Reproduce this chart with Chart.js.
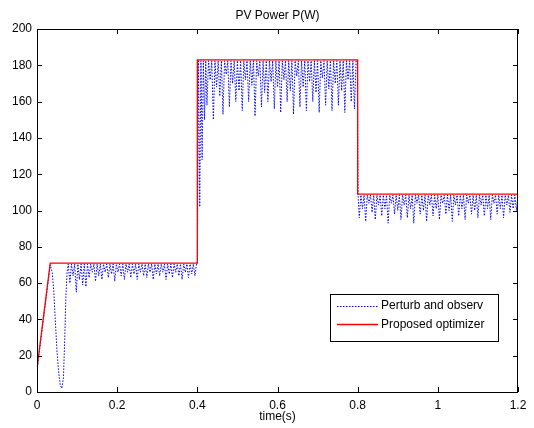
<!DOCTYPE html>
<html>
<head>
<meta charset="utf-8">
<script src="https://cdn.jsdelivr.net/npm/chart.js@4.4.1/dist/chart.umd.min.js"></script>
<style>
  html, body { margin: 0; padding: 0; background: #fff; }
  #wrap { width: 534px; height: 428px; position: relative; }
</style>
</head>
<body>
<div id="wrap"><canvas id="pvChart"></canvas></div>
<script>
// ---- data ----
const xTicks = [0, 0.2, 0.4, 0.6, 0.8, 1, 1.2];
const yTicks = [0, 20, 40, 60, 80, 100, 120, 140, 160, 180, 200];

// Proposed optimizer (red)
const optTime  = [0, 0.033, 0.4, 0.4, 0.8, 0.8, 1.2];
const optPower = [13, 71, 71, 183, 183, 109, 109];

// Perturb and observ (blue dotted)
const peoTime = [
  0, 0.004, 0.033, 0.038, 0.042, 0.046, 0.050, 0.054, 0.058, 0.062, 0.066, 0.069, 0.072, 0.075, 0.078,
  0.082,0.086,0.090,0.094,0.098,0.102,0.106,0.110,0.114,0.118,
  0.122,0.126,0.130,0.134,0.138,0.142,0.146,0.150,0.154,0.158,
  0.162,0.166,0.170,0.174,0.178,0.182,0.186,0.190,0.194,0.198,
  0.202,0.206,0.210,0.214,0.218,0.222,0.226,0.230,0.234,0.238,
  0.242,0.246,0.250,0.254,0.258,0.262,0.266,0.270,0.274,0.278,
  0.282,0.286,0.290,0.294,0.298,0.302,0.306,0.310,0.314,0.318,
  0.322,0.326,0.330,0.334,0.338,0.342,0.346,0.350,0.354,0.358,
  0.362,0.366,0.370,0.374,0.378,0.382,0.386,0.390,0.394,0.398,
  0.400,0.403,0.406,0.409,0.412,0.415,0.418,0.421,
  0.424,0.428,0.432,0.436,0.440,0.444,0.448,0.452,0.456,0.460,
  0.464,0.468,0.472,0.476,0.480,0.484,0.488,0.492,0.496,0.500,
  0.504,0.508,0.512,0.516,0.520,0.524,0.528,0.532,0.536,0.540,
  0.544,0.548,0.552,0.556,0.560,0.564,0.568,0.572,0.576,0.580,
  0.584,0.588,0.592,0.596,0.600,0.604,0.608,0.612,0.616,0.620,
  0.624,0.628,0.632,0.636,0.640,0.644,0.648,0.652,0.656,0.660,
  0.664,0.668,0.672,0.676,0.680,0.684,0.688,0.692,0.696,0.700,
  0.704,0.708,0.712,0.716,0.720,0.724,0.728,0.732,0.736,0.740,
  0.744,0.748,0.752,0.756,0.760,0.764,0.768,0.772,0.776,0.780,
  0.784,0.788,0.792,0.796,
  0.799,0.801,
  0.804,0.808,0.812,0.816,0.820,0.824,0.828,0.832,0.836,0.840,
  0.844,0.848,0.852,0.856,0.860,0.864,0.868,0.872,0.876,0.880,
  0.884,0.888,0.892,0.896,0.900,0.904,0.908,0.912,0.916,0.920,
  0.924,0.928,0.932,0.936,0.940,0.944,0.948,0.952,0.956,0.960,
  0.964,0.968,0.972,0.976,0.980,0.984,0.988,0.992,0.996,1.000,
  1.004,1.008,1.012,1.016,1.020,1.024,1.028,1.032,1.036,1.040,
  1.044,1.048,1.052,1.056,1.060,1.064,1.068,1.072,1.076,1.080,
  1.084,1.088,1.092,1.096,1.100,1.104,1.108,1.112,1.116,1.120,
  1.124,1.128,1.132,1.136,1.140,1.144,1.148,1.152,1.156,1.160,
  1.164,1.168,1.172,1.176,1.180,1.184,1.188,1.192,1.196,1.200
];
const peoPower = [
  12, 19, 70, 66, 55, 38, 22, 11, 4, 2, 8, 28, 52, 66, 70.5,
  60,70.5,64,70.5,55,70.5,62,70.5,59,70.5,
  58,70.5,63,70.5,66,70.5,61,70.5,64,70.5,
  62,70.5,66,70.5,63,70.5,65,70.5,61,70.5,
  66,70.5,64,70.5,62,70.5,66,70.5,63,70.5,
  65,70.5,62,70.5,66,70.5,64,70.5,63,70.5,
  66,70.5,62,70.5,65,70.5,64,70.5,66,70.5,
  62,70.5,65,70.5,63,70.5,66,70.5,64,70.5,
  62,70.5,66,70.5,63,70.5,65,70.5,64,70.5,
  71,183,102,182.5,128,182.5,150,182.5,
  158,182.5,172,182.5,150,182.5,168,182.5,163,182.5,
  153,182.5,175,182.5,157,182.5,170,182.5,160,182.5,
  166,182.5,155,182.5,172,182.5,160,182.5,169,182.5,
  152,182.5,174,182.5,157,182.5,165,182.5,160,182.5,
  171,182.5,156,182.5,168,182.5,154,182.5,172,182.5,
  160,182.5,166,182.5,153,182.5,174,182.5,157,182.5,
  168,182.5,155,182.5,171,182.5,160,182.5,165,182.5,
  154,182.5,173,182.5,158,182.5,167,182.5,155,182.5,
  170,182.5,158,182.5,166,182.5,154,182.5,172,182.5,
  160,182.5,156,182.5,
  182.5,108.5,
  96,108.5,101,108.5,94,108.5,104,108.5,99,108.5,
  95,108.5,103,108.5,97,108.5,101,108.5,93,108.5,
  104,108.5,98,108.5,100,108.5,95,108.5,103,108.5,
  96,108.5,101,108.5,93,108.5,104,108.5,98,108.5,
  100,108.5,94,108.5,103,108.5,97,108.5,101,108.5,
  95,108.5,104,108.5,98,108.5,100,108.5,94,108.5,
  103,108.5,97,108.5,101,108.5,95,108.5,104,108.5,
  98,108.5,100,108.5,96,108.5,103,108.5,97,108.5,
  101,108.5,95,108.5,104,108.5,98,108.5,101,108.5,
  96,108.5,103,108.5,99,108.5,101,108.5,100,108.5
];

const seriesNames = ['Perturb and observ', 'Proposed optimizer'];

document.addEventListener('DOMContentLoaded', function () {
    const FONT = '"Liberation Sans", Arial, sans-serif';

    // MATLAB-like frame: box, inward ticks, title, x label, legend
    const matlabFrame = {
        id: 'matlabFrame',
        afterDraw(chart) {
            const ctx = chart.ctx;
            const a = chart.chartArea;
            const xs = chart.scales.x, ys = chart.scales.y;
            ctx.save();
            ctx.strokeStyle = '#000';
            ctx.lineWidth = 1;
            ctx.strokeRect(a.left + 0.5, a.top + 0.5, a.right - a.left - 1, a.bottom - a.top);
            ctx.beginPath();
            xTicks.forEach(v => {
                const px = Math.round(xs.getPixelForValue(v)) + 0.5;
                ctx.moveTo(px, a.bottom); ctx.lineTo(px, a.bottom - 5);
                ctx.moveTo(px, a.top); ctx.lineTo(px, a.top + 5);
            });
            yTicks.forEach(v => {
                const py = Math.round(ys.getPixelForValue(v)) + 0.5;
                ctx.moveTo(a.left, py); ctx.lineTo(a.left + 5, py);
                ctx.moveTo(a.right, py); ctx.lineTo(a.right - 5, py);
            });
            ctx.stroke();

            ctx.fillStyle = '#000';
            ctx.font = '12px ' + FONT;
            ctx.textAlign = 'center';
            ctx.textBaseline = 'middle';
            ctx.fillText('PV Power P(W)', (a.left + a.right) / 2, 16);
            ctx.fillText('time(s)', (a.left + a.right) / 2, 417);

            // legend
            const lx = 330, ly = 294, lw = 168, lh = 47;
            ctx.fillStyle = '#fff';
            ctx.fillRect(lx, ly, lw, lh);
            ctx.strokeRect(lx + 0.5, ly + 0.5, lw, lh);
            ctx.lineWidth = 1;
            ctx.strokeStyle = '#0000ff';
            ctx.setLineDash([1.5, 1.5]);
            ctx.beginPath(); ctx.moveTo(337, 306.5); ctx.lineTo(378, 306.5); ctx.stroke();
            ctx.setLineDash([]);
            ctx.strokeStyle = '#ff0000';
            ctx.lineWidth = 1.3;
            ctx.beginPath(); ctx.moveTo(337, 324.5); ctx.lineTo(378, 324.5); ctx.stroke();
            ctx.fillStyle = '#000';
            ctx.textAlign = 'left';
            ctx.fillText(seriesNames[0], 381, 306);
            ctx.fillText(seriesNames[1], 381, 325);
            ctx.restore();
        }
    };

    new Chart(document.getElementById('pvChart'), {
        type: 'scatter',
        data: {
            datasets: [
                {
                    label: seriesNames[0],
                    data: peoTime.map((t, i) => ({ x: t, y: peoPower[i] })),
                    showLine: true,
                    borderColor: '#0000ff',
                    borderWidth: 1,
                    borderDash: [1.5, 1.5],
                    pointRadius: 0,
                    order: 1,
                },
                {
                    label: seriesNames[1],
                    data: optTime.map((t, i) => ({ x: t, y: optPower[i] })),
                    showLine: true,
                    borderColor: '#ff0000',
                    borderWidth: 1.3,
                    pointRadius: 0,
                    order: 0,
                }
            ]
        },
        options: {
            responsive: true,
            maintainAspectRatio: false,
            animation: false,
            layout: { padding: { top: 29, right: 16, left: 0, bottom: 0 } },
            plugins: {
                legend: { display: false },
                tooltip: { enabled: false },
            },
            scales: {
                x: {
                    type: 'linear',
                    min: 0, max: 1.2,
                    afterBuildTicks: s => { s.ticks = xTicks.map(v => ({ value: v })); },
                    afterFit: s => { s.height = 36; },
                    grid: { display: false, drawTicks: false },
                    border: { display: false },
                    ticks: {
                        padding: 6,
                        color: '#000',
                        font: { family: FONT, size: 12 },
                        maxRotation: 0,
                        callback: v => String(v),
                    }
                },
                y: {
                    min: 0, max: 200,
                    afterBuildTicks: s => { s.ticks = yTicks.map(v => ({ value: v })); },
                    afterFit: s => { s.width = 37; },
                    grid: { display: false, drawTicks: false },
                    border: { display: false },
                    ticks: {
                        padding: 5,
                        color: '#000',
                        font: { family: FONT, size: 12 },
                        callback: v => String(v),
                    }
                }
            }
        },
        plugins: [matlabFrame]
    });
});
</script>
</body>
</html>
